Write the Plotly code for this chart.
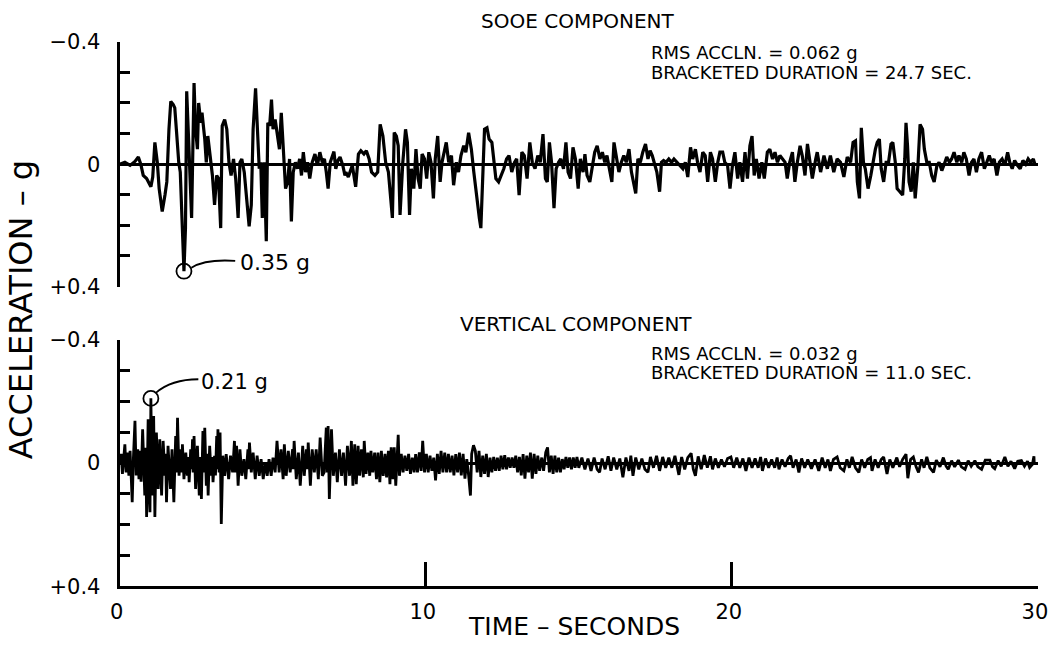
import plotly.graph_objects as go

W, H = 1058, 648
# The browser keeps its 8 px body margin and the photo is the whole page shrunk back to 1058x648,
# so layout positions below are given in photo pixels and converted through this mapping.
PHOTO_SX, PHOTO_SY = W / (W + 16), H / (H + 16)
PHOTO_OX, PHOTO_OY = 8 * PHOTO_SX, 8 * PHOTO_SY

# ---------------- data (acceleration in g, axis drawn with -0.4 at top) ----------------
sooe_t = [0.00, 0.17, 0.34, 0.50, 0.61, 0.69, 0.77, 0.88, 1.02, 1.08, 1.15, 1.23, 1.29, 1.39, 1.48, 1.54,
          1.61, 1.67, 1.75, 1.80, 1.86, 1.93, 1.98, 2.05, 2.10, 2.15, 2.19, 2.26, 2.30, 2.35, 2.43, 2.48,
          2.54, 2.58, 2.65, 2.69, 2.78, 2.83, 2.88, 2.95, 3.03, 3.10, 3.17, 3.23, 3.30, 3.35, 3.43, 3.50,
          3.57, 3.64, 3.72, 3.79, 3.87, 3.93, 3.99, 4.07, 4.14, 4.23, 4.30, 4.36, 4.44, 4.49, 4.56, 4.61,
          4.66, 4.72, 4.79, 4.84, 4.90, 4.96, 5.01, 5.08, 5.14, 5.22, 5.28, 5.36, 5.42, 5.49, 5.55, 5.61,
          5.67, 5.74, 5.81, 5.88, 5.94, 6.00, 6.07, 6.14, 6.21, 6.29, 6.38, 6.46, 6.54, 6.62, 6.69, 6.75,
          6.81, 6.88, 6.93, 7.00, 7.06, 7.13, 7.20, 7.29, 7.36,
          7.39, 7.47, 7.60, 7.71, 7.80, 7.88, 7.98, 8.06, 8.15, 8.23, 8.34, 8.43, 8.51, 8.60, 8.69, 8.78,
          8.91, 8.97, 9.04, 9.10, 9.16, 9.25, 9.34, 9.40, 9.47, 9.53, 9.61, 9.68, 9.75, 9.82, 9.88, 9.96,
          10.03, 10.10, 10.17, 10.25, 10.31, 10.39, 10.47, 10.53, 10.61, 10.67, 10.75, 10.84, 10.91, 11.00,
          11.07, 11.15, 11.24, 11.31, 11.40, 11.49, 11.57, 11.67, 11.75, 11.80, 11.86, 11.92, 12.00, 12.07,
          12.16, 12.23, 12.29, 12.38, 12.46, 12.55, 12.64, 12.72, 12.81, 12.90, 12.97, 13.05, 13.14, 13.22,
          13.31, 13.40, 13.48, 13.57, 13.66, 13.74, 13.83, 13.91, 13.97, 14.04, 14.11, 14.19, 14.26, 14.34,
          14.41, 14.50, 14.58, 14.65, 14.73, 14.81, 14.89, 14.98, 15.05, 15.14,
          15.20, 15.27, 15.36, 15.45, 15.52, 15.60, 15.69, 15.77, 15.85, 15.92, 16.01, 16.08, 16.15, 16.23,
          16.31, 16.39, 16.47, 16.55, 16.64, 16.72, 16.79, 16.86, 16.93, 17.01, 17.09, 17.18, 17.26, 17.33,
          17.40, 17.47, 17.55, 17.64, 17.70, 17.77, 17.85, 17.94, 18.03, 18.11, 18.20, 18.29, 18.40, 18.48,
          18.56, 18.65, 18.72, 18.81, 18.88, 18.96, 19.05, 19.13, 19.21, 19.30, 19.37, 19.46, 19.54, 19.61,
          19.70, 19.77, 19.86, 19.94, 20.02, 20.10, 20.19, 20.26, 20.35, 20.43, 20.51, 20.59, 20.66, 20.73,
          20.80, 20.89, 20.98, 21.06, 21.16, 21.24, 21.33, 21.41, 21.49, 21.57, 21.65, 21.74, 21.81, 21.89,
          21.98, 22.06, 22.14, 22.23, 22.30, 22.39, 22.47, 22.55, 22.63, 22.74,
          22.79, 22.90, 23.01, 23.12, 23.22, 23.33, 23.44, 23.55, 23.66, 23.77, 23.88, 23.96, 24.04, 24.10,
          24.17, 24.23, 24.30, 24.36, 24.45, 24.54, 24.62, 24.69, 24.75, 24.82, 24.88, 24.96, 25.04, 25.12,
          25.20, 25.26, 25.34, 25.40, 25.49, 25.58, 25.65, 25.69, 25.74, 25.79, 25.86, 25.93, 25.99, 26.08,
          26.15, 26.23, 26.29, 26.37, 26.45, 26.53, 26.61, 26.70, 26.77, 26.86, 26.94, 27.02, 27.11, 27.18,
          27.26, 27.35, 27.42, 27.51, 27.58, 27.66, 27.75, 27.83, 27.91, 27.99, 28.07, 28.16, 28.25, 28.32,
          28.41, 28.48, 28.57, 28.66, 28.74, 28.83, 28.92, 29.01, 29.08, 29.16, 29.24, 29.33, 29.42, 29.51,
          29.60, 29.68, 29.76, 29.85, 29.90]
sooe_g = [0.000, -0.006, 0.004, -0.009, -0.023, 0.000, 0.037, 0.047, 0.074, 0.042, -0.071, -0.006, 0.080, 0.155, 0.101, 0.058,
          -0.114, -0.205, -0.195, -0.184, -0.103, -0.006, 0.026, 0.209, 0.350, 0.209, -0.238, -0.060, 0.026, 0.176, -0.265, -0.114,
          -0.049, -0.200, -0.135, -0.168, -0.082, -0.006, -0.092, -0.028, 0.037, 0.133, 0.037, 0.047, 0.209, -0.125, -0.146, -0.114,
          -0.006, 0.037, -0.017, 0.047, 0.176, -0.006, -0.017, 0.026, 0.101, 0.203, 0.133, -0.114, -0.248, -0.114, 0.015, -0.006,
          0.176, -0.006, 0.252, -0.135, -0.125, -0.211, -0.114, -0.146, -0.103, -0.049, -0.168, -0.017, 0.080, 0.058, -0.017, 0.187,
          0.026, -0.006, 0.015, -0.017, 0.037, -0.039, 0.026, -0.006, 0.047, -0.006, -0.033, 0.004, -0.039, -0.006, -0.017, 0.026,
          0.080, -0.006, -0.023, -0.041, 0.015, -0.012, -0.023, 0.004, 0.037,
          0.026, 0.042, 0.004, 0.074, -0.033, -0.044, -0.033, -0.044, -0.017, 0.026, 0.037, 0.026, -0.130, -0.092, -0.006, 0.026,
          0.176, -0.103, -0.092, -0.060, 0.166, -0.006, -0.114, -0.071, 0.166, 0.015, 0.080, -0.049, 0.047, 0.080, -0.033, -0.017,
          0.047, -0.039, -0.006, 0.112, -0.017, -0.092, 0.058, -0.006, -0.049, -0.071, -0.006, -0.028, 0.069, -0.006,
          0.026, -0.028, -0.060, -0.039, -0.103, -0.049, 0.026, 0.123, 0.176, 0.209, 0.058, -0.114, -0.119, -0.082,
          -0.071, -0.006, 0.047, 0.058, 0.037, 0.015, -0.017, -0.028, 0.026, -0.006, -0.017, 0.101, -0.039, -0.028,
          0.047, -0.071, -0.006, 0.015, -0.028, -0.006, -0.098, 0.047, 0.058, -0.071, -0.006, 0.144, 0.015, -0.006,
          -0.017, 0.015, -0.071, 0.026, 0.047, -0.055, -0.017, 0.080, -0.017, 0.026,
          -0.033, 0.037, 0.058, -0.006, -0.039, -0.060, -0.017, -0.039, -0.006, -0.028, 0.026, 0.058, -0.071, -0.028,
          0.026, -0.006, -0.028, -0.006, -0.049, 0.026, 0.058, 0.096, -0.017, -0.006, -0.039, -0.066, -0.017, -0.044,
          -0.028, -0.006, 0.026, 0.090, -0.006, -0.012, -0.006, -0.017, -0.006, -0.017, -0.006, 0.004, 0.015, -0.006,
          0.042, -0.055, -0.017, -0.049, -0.006, 0.026, -0.039, -0.028, 0.058, -0.039, -0.017, 0.058, -0.006, -0.039,
          -0.039, -0.006, 0.004, 0.080, 0.004, -0.039, 0.047, -0.006, 0.058, -0.039, 0.047, -0.060, -0.092, 0.037,
          -0.017, 0.047, -0.006, 0.047, -0.039, -0.049, -0.017, -0.039, -0.006, -0.028, -0.017, -0.006, 0.047, -0.006,
          -0.039, 0.058, -0.006, -0.060, -0.028, 0.037, -0.066, -0.006, 0.047, -0.017,
          -0.039, 0.026, -0.028, 0.015, -0.028, 0.026, -0.017, -0.006, 0.042, -0.023, -0.006, -0.071, -0.076, 0.058,
          0.112, -0.119, -0.006, 0.015, 0.080, 0.037, -0.017, -0.049, -0.071, -0.082, 0.015, 0.058, -0.006, -0.006,
          -0.066, -0.071, -0.006, 0.080, 0.090, 0.101, -0.017, -0.135, -0.060, 0.058, 0.090, -0.006, 0.112, 0.004,
          -0.130, -0.114, -0.049, -0.006, -0.006, 0.037, 0.058, 0.004, -0.006, 0.021, 0.000, -0.023, -0.006, -0.017,
          -0.039, -0.006, -0.028, -0.006, -0.039, -0.017, 0.037, -0.006, -0.017, 0.026, -0.017, -0.039, 0.015, -0.006,
          -0.028, -0.006, -0.017, 0.037, -0.006, -0.017, 0.004, -0.039, -0.006, 0.015, -0.012, 0.004, 0.015, -0.012,
          0.000, -0.017, -0.006, -0.017, 0.000]

vert_t = [0.01, 0.05, 0.09, 0.17, 0.21, 0.26, 0.30, 0.34, 0.38, 0.41, 0.45, 0.50, 0.54, 0.59, 0.63, 0.66,
          0.70, 0.75, 0.82, 0.85, 0.88, 0.93, 0.96, 0.99, 1.02, 1.06, 1.11, 1.15, 1.20, 1.26, 1.31, 1.37,
          1.42, 1.48, 1.50, 1.53, 1.58, 1.66, 1.71, 1.77, 1.83, 1.86, 1.89, 1.94, 2.00, 2.03, 2.05, 2.10,
          2.16, 2.21, 2.24, 2.27, 2.32, 2.35, 2.38, 2.40, 2.43, 2.48, 2.54, 2.60, 2.63, 2.67, 2.72, 2.75,
          2.78, 2.83, 2.86, 2.89, 2.94, 2.99, 3.02, 3.05, 3.10, 3.13, 3.17, 3.19, 3.21, 3.25, 3.28, 3.32,
          3.37, 3.43, 3.48, 3.56, 3.62, 3.69, 3.75, 3.78, 3.82, 3.87, 3.93, 3.99, 4.06, 4.12, 4.19, 4.21,
          4.24, 4.30, 4.36, 4.43, 4.49, 4.56, 4.62, 4.69, 4.75, 4.82, 4.88, 4.95, 5.01, 5.08, 5.14, 5.21,
          5.27, 5.34, 5.38, 5.44, 5.51, 5.57, 5.65, 5.67, 5.70, 5.77, 5.84, 5.90, 5.98, 6.03, 6.10, 6.13,
          6.16, 6.23, 6.29, 6.36, 6.42, 6.49, 6.55, 6.62, 6.68, 6.75, 6.78, 6.81, 6.85, 6.92, 6.98, 7.05,
          7.11, 7.18, 7.25, 7.31, 7.38, 7.44, 7.51,
          7.57, 7.62, 7.68, 7.73, 7.79, 7.84, 7.90, 7.96, 7.99, 8.05, 8.11, 8.17, 8.21, 8.27, 8.33, 8.39,
          8.44, 8.50, 8.55, 8.61, 8.67, 8.72, 8.78, 8.83, 8.87, 8.93, 8.97, 9.02, 9.07, 9.10, 9.14, 9.20,
          9.26, 9.32, 9.38, 9.44, 9.50, 9.56, 9.62, 9.67, 9.73, 9.79, 9.85, 9.90, 9.96, 10.02, 10.08, 10.14,
          10.20, 10.26, 10.32, 10.38, 10.44, 10.50, 10.56, 10.62, 10.68, 10.74, 10.80, 10.86, 10.92, 10.98,
          11.04, 11.10, 11.16, 11.22, 11.28, 11.34, 11.40, 11.46, 11.50, 11.56, 11.62, 11.68, 11.74, 11.80,
          11.86, 11.92, 11.98, 12.04, 12.10, 12.16, 12.22, 12.28, 12.34, 12.40, 12.46, 12.52, 12.58, 12.64,
          12.70, 12.76, 12.82, 12.88, 12.94, 13.00, 13.06, 13.12, 13.18, 13.24, 13.30, 13.36, 13.42, 13.48,
          13.54, 13.60, 13.66, 13.72, 13.79, 13.85, 13.92, 13.98, 14.04, 14.10, 14.16, 14.22, 14.28, 14.34,
          14.40, 14.46, 14.52, 14.58, 14.64, 14.70, 14.76, 14.82, 14.88, 14.94, 15.00,
          15.10, 15.20, 15.30, 15.40, 15.50, 15.60, 15.68, 15.76, 15.86, 15.96, 16.05, 16.14, 16.24, 16.34,
          16.44, 16.54, 16.64, 16.70, 16.77, 16.86, 16.96, 17.06, 17.16, 17.26, 17.34, 17.44, 17.54, 17.64,
          17.74, 17.84, 17.94, 18.04, 18.14, 18.27, 18.36, 18.46, 18.56, 18.67, 18.74, 18.81, 18.90, 19.00,
          19.10, 19.20, 19.30, 19.37, 19.46, 19.56, 19.66, 19.76, 19.86, 19.97, 20.06, 20.16, 20.26, 20.36,
          20.46, 20.56, 20.66, 20.76, 20.86, 20.94, 21.00, 21.10, 21.20, 21.30, 21.40, 21.48, 21.54, 21.64,
          21.74, 21.84, 21.92, 22.00, 22.10, 22.19, 22.28, 22.38, 22.48,
          22.60, 22.72, 22.84, 22.95, 23.05, 23.14, 23.22, 23.32, 23.44, 23.54, 23.66, 23.76, 23.84, 23.93,
          24.04, 24.15, 24.24, 24.34, 24.44, 24.53, 24.58, 24.68, 24.78, 24.88, 24.96, 25.07, 25.16, 25.26,
          25.39, 25.48, 25.58, 25.69, 25.75, 25.84, 25.93, 26.02, 26.10, 26.20, 26.28, 26.37, 26.47, 26.59,
          26.68, 26.80, 26.91, 27.00, 27.07, 27.18, 27.28, 27.40, 27.50, 27.62, 27.72, 27.82, 27.94, 28.04,
          28.16, 28.28, 28.43, 28.52, 28.59, 28.70, 28.80, 28.92, 29.02, 29.12, 29.24, 29.34, 29.46, 29.56,
          29.66, 29.73, 29.82, 29.87, 29.88]
vert_g = [0.000, -0.030, 0.035, -0.061, 0.030, -0.034, 0.041, -0.040, 0.052, 0.127, -0.020, -0.137, 0.040, -0.045, 0.052, -0.040,
          0.060, -0.110, 0.105, -0.050, 0.175, -0.142, 0.080, 0.159, -0.210, 0.105, -0.153, 0.175, -0.099, 0.084, -0.077, 0.105,
          -0.072, 0.041, -0.030, 0.127, -0.056, 0.084, -0.045, 0.127, -0.088, 0.030, -0.147, 0.041, -0.045, 0.030, -0.061, 0.052,
          -0.034, 0.041, -0.020, 0.062, -0.045, 0.020, -0.077, 0.030, -0.088, 0.084, -0.056, 0.105, -0.020, 0.116, -0.104, 0.030,
          -0.115, 0.073, -0.030, 0.105, -0.056, 0.041, -0.020, 0.062, -0.024, 0.040, -0.088, 0.020, -0.110, 0.030, -0.099, 0.197,
          -0.024, 0.041, -0.029, 0.052, -0.024, 0.030, -0.072, 0.030, -0.056, 0.073, -0.045, 0.041, -0.013, 0.052, -0.045, 0.020,
          -0.067, 0.030, -0.034, 0.052, -0.024, 0.041, -0.013, 0.052, -0.002, 0.041, -0.013, 0.041, -0.018, 0.030, -0.072, 0.030,
          -0.045, 0.052, -0.061, 0.041, -0.040, 0.030, -0.045, 0.020, -0.072, 0.052, -0.034, 0.073, -0.056, 0.041, -0.045, 0.020,
          -0.067, 0.073, -0.045, 0.030, -0.045, 0.052, -0.083, 0.041, 0.030, -0.115, 0.030, -0.120, 0.116, -0.110, 0.041, -0.034,
          0.062, -0.045, 0.041, -0.034, 0.073, -0.056, 0.041,
          -0.072, 0.073, -0.061, 0.068, -0.056, 0.041, -0.045, 0.046, -0.072, 0.035, -0.034, 0.041, -0.040, 0.030, -0.034, 0.052,
          -0.034, 0.062, -0.040, 0.041, -0.030, 0.046, -0.040, 0.068, -0.051, 0.052, -0.051, 0.073, -0.040, -0.092, 0.041, -0.030,
          0.030, -0.024, 0.025, -0.030, 0.035, -0.018, 0.030, -0.029, 0.030, -0.035, 0.025, -0.072, 0.030, -0.030, 0.030, -0.024,
          0.025, -0.018, 0.056, -0.030, 0.035, -0.040, 0.030, -0.034, 0.030, -0.030, 0.030, -0.024, 0.040, -0.029,
          0.030, -0.034, 0.040, -0.030, 0.050, -0.013, 0.040, 0.105, -0.030, -0.058, -0.040, 0.030, -0.040, 0.045,
          -0.024, 0.035, -0.030, 0.045, -0.018, 0.030, -0.020, 0.025, -0.018, 0.025, -0.024, 0.020, -0.026, 0.020,
          -0.018, 0.015, -0.018, 0.015, -0.024, 0.030, -0.020, 0.040, -0.029, 0.050, -0.024, 0.030, -0.034, 0.050,
          -0.030, 0.035, -0.024, 0.025, -0.018, 0.025, -0.035, -0.051, 0.030, -0.024, 0.035, -0.024, 0.030, -0.018,
          0.030, -0.013, 0.020, -0.020, 0.015, -0.018, 0.020, -0.018, 0.015, -0.020, 0.015,
          -0.018, 0.020, -0.015, 0.025, -0.018, 0.020, 0.030, -0.015, 0.020, -0.022, 0.025, -0.018, 0.020, -0.015,
          0.046, -0.018, 0.025, -0.024, 0.041, -0.018, 0.020, -0.015, 0.020, 0.030, -0.020, 0.015, -0.024, 0.025,
          -0.020, 0.015, -0.018, 0.015, -0.024, 0.038, -0.020, 0.020, -0.018, -0.032, 0.020, 0.041, -0.022, 0.020,
          -0.026, 0.015, -0.022, 0.020, -0.015, 0.015, -0.012, 0.012, -0.015, -0.020, 0.015, -0.018, 0.015, -0.015,
          0.025, -0.018, 0.015, -0.015, 0.015, -0.020, 0.025, -0.015, 0.015, -0.012, 0.015, -0.018, 0.020, -0.012,
          0.012, -0.015, -0.024, 0.015, -0.012, 0.030, -0.015, 0.015, -0.012,
          0.018, -0.012, 0.025, -0.018, 0.015, -0.012, 0.025, -0.012, -0.020, 0.015, 0.025, -0.012, 0.015, -0.020,
          0.015, 0.030, -0.012, 0.015, -0.012, -0.018, 0.025, -0.012, 0.015, -0.012, -0.020, 0.035, -0.012, 0.015,
          -0.018, 0.012, -0.012, -0.029, 0.049, -0.012, -0.020, 0.012, 0.030, -0.012, 0.015, -0.020, 0.015, 0.030,
          -0.010, 0.012, -0.018, 0.010, 0.020, -0.008, 0.012, -0.010, 0.012, 0.020, -0.008, 0.010, -0.008, 0.012,
          0.020, -0.010, -0.010, 0.012, 0.018, -0.008, 0.010, -0.020, 0.010, -0.006, 0.018, -0.006, -0.008, 0.010,
          -0.006, 0.014, 0.004, -0.022, 0.000]

time_ticks = [0, 10, 20, 30]
time_tick_labels = ["0", "10", "20", "30"]
accel_ticks = [-0.4, -0.3, -0.2, -0.1, 0.0, 0.1, 0.2, 0.3, 0.4]
accel_tick_labels = ["\u22120.4", "", "", "", "0", "", "", "", "+0.4"]

FONT = "DejaVu Sans"


def fx(p):
    """photo pixel x -> paper fraction"""
    return ((p - PHOTO_OX) / PHOTO_SX) / W


def fy(p):
    """photo pixel y -> paper fraction"""
    return 1 - ((p - PHOTO_OY) / PHOTO_SY) / H


fig = go.Figure()
fig.add_trace(go.Scatter(x=sooe_t, y=sooe_g, mode="lines", xaxis="x", yaxis="y",
                         line=dict(color="black", width=3.2), showlegend=False, hoverinfo="skip"))
fig.add_trace(go.Scatter(x=vert_t, y=vert_g, mode="lines", xaxis="x2", yaxis="y2",
                         line=dict(color="black", width=2.8), showlegend=False, hoverinfo="skip"))

yax = dict(range=[0.4, -0.4], tickvals=accel_ticks, ticktext=accel_tick_labels, ticks="inside",
           ticklen=10, tickwidth=2.5, tickcolor="black", showline=True, linewidth=3, linecolor="black",
           showgrid=False, zeroline=True, zerolinecolor="black", zerolinewidth=2.5,
           tickfont=dict(family=FONT, size=21, color="black"), ticklabelstandoff=12, fixedrange=True)

fig.update_layout(
    width=W, height=H, autosize=False, margin=dict(l=0, r=0, t=0, b=0, pad=0),
    paper_bgcolor="white", plot_bgcolor="white", showlegend=False,
    font=dict(family=FONT, color="black"),
    xaxis=dict(domain=[fx(118), fx(1040)], range=[0, 30], anchor="y", showline=False, showticklabels=False,
               ticks="", showgrid=False, zeroline=False, fixedrange=True),
    yaxis=dict(domain=[fy(286), fy(38)], anchor="x", **yax),
    xaxis2=dict(domain=[fx(118), fx(1040)], range=[0, 30], anchor="y2", showline=True, linewidth=3,
                linecolor="black", tickvals=time_ticks, ticktext=time_tick_labels, ticks="inside",
                ticklen=24, tickwidth=2.5, tickcolor="black", showgrid=False, zeroline=False,
                ticklabeloverflow="allow", ticklabelshift=-3,
                tickfont=dict(family=FONT, size=21, color="black"), ticklabelstandoff=4, fixedrange=True),
    yaxis2=dict(domain=[fy(590), fy(340)], anchor="x2", **yax),
)

# peak markers (circle on the trace peak) with leader lines
i_top = max(range(len(sooe_g)), key=lambda k: sooe_g[k])
i_bot = min(range(len(vert_g)), key=lambda k: vert_g[k])
for xr, yr, tt, gg in (("x", "y", sooe_t[i_top], sooe_g[i_top]), ("x2", "y2", vert_t[i_bot], vert_g[i_bot])):
    fig.add_shape(type="circle", xref=xr, yref=yr, xsizemode="pixel", ysizemode="pixel",
                  xanchor=tt, yanchor=gg, x0=-7.5, x1=7.5, y0=-7.5, y1=7.5,
                  line=dict(color="black", width=1.8), fillcolor="rgba(0,0,0,0)")

fig.add_shape(type="path", xref="paper", yref="paper",
              path=f"M {fx(190)},{fy(267)} Q {fx(204)},{fy(258)} {fx(234)},{fy(260)}",
              line=dict(color="black", width=1.8))
fig.add_shape(type="path", xref="paper", yref="paper",
              path=f"M {fx(154)},{fy(394)} Q {fx(170)},{fy(380)} {fx(197)},{fy(380)}",
              line=dict(color="black", width=1.8))

ann = []


def txt(s, x, y, size, xanchor="left", angle=0):
    ann.append(dict(text=s, x=fx(x), y=fy(y), xref="paper", yref="paper", showarrow=False,
                    xanchor=xanchor, yanchor="middle", textangle=angle,
                    font=dict(family=FONT, size=size, color="black")))


txt(f"{abs(sooe_g[i_top]):.2f} g", 237, 262, 22)
txt(f"{abs(vert_g[i_bot]):.2f} g", 198, 383, 21)
txt("SOOE COMPONENT", 578, 17, 20, xanchor="center")
txt("RMS ACCLN. = 0.062 g", 649, 49, 18)
txt("BRACKETED DURATION = 24.7 SEC.", 649, 69, 18)
txt("VERTICAL COMPONENT", 576, 324, 20, xanchor="center")
txt("RMS ACCLN. = 0.032 g", 649, 354, 18)
txt("BRACKETED DURATION = 11.0 SEC.", 649, 373, 18)
txt("TIME \u2013 SECONDS", 574, 631, 25, xanchor="center")
txt("ACCELERATION \u2013 g", 19, 310, 32, xanchor="center", angle=-90)
fig.update_layout(annotations=ann)

fig.write_html("out.html")
